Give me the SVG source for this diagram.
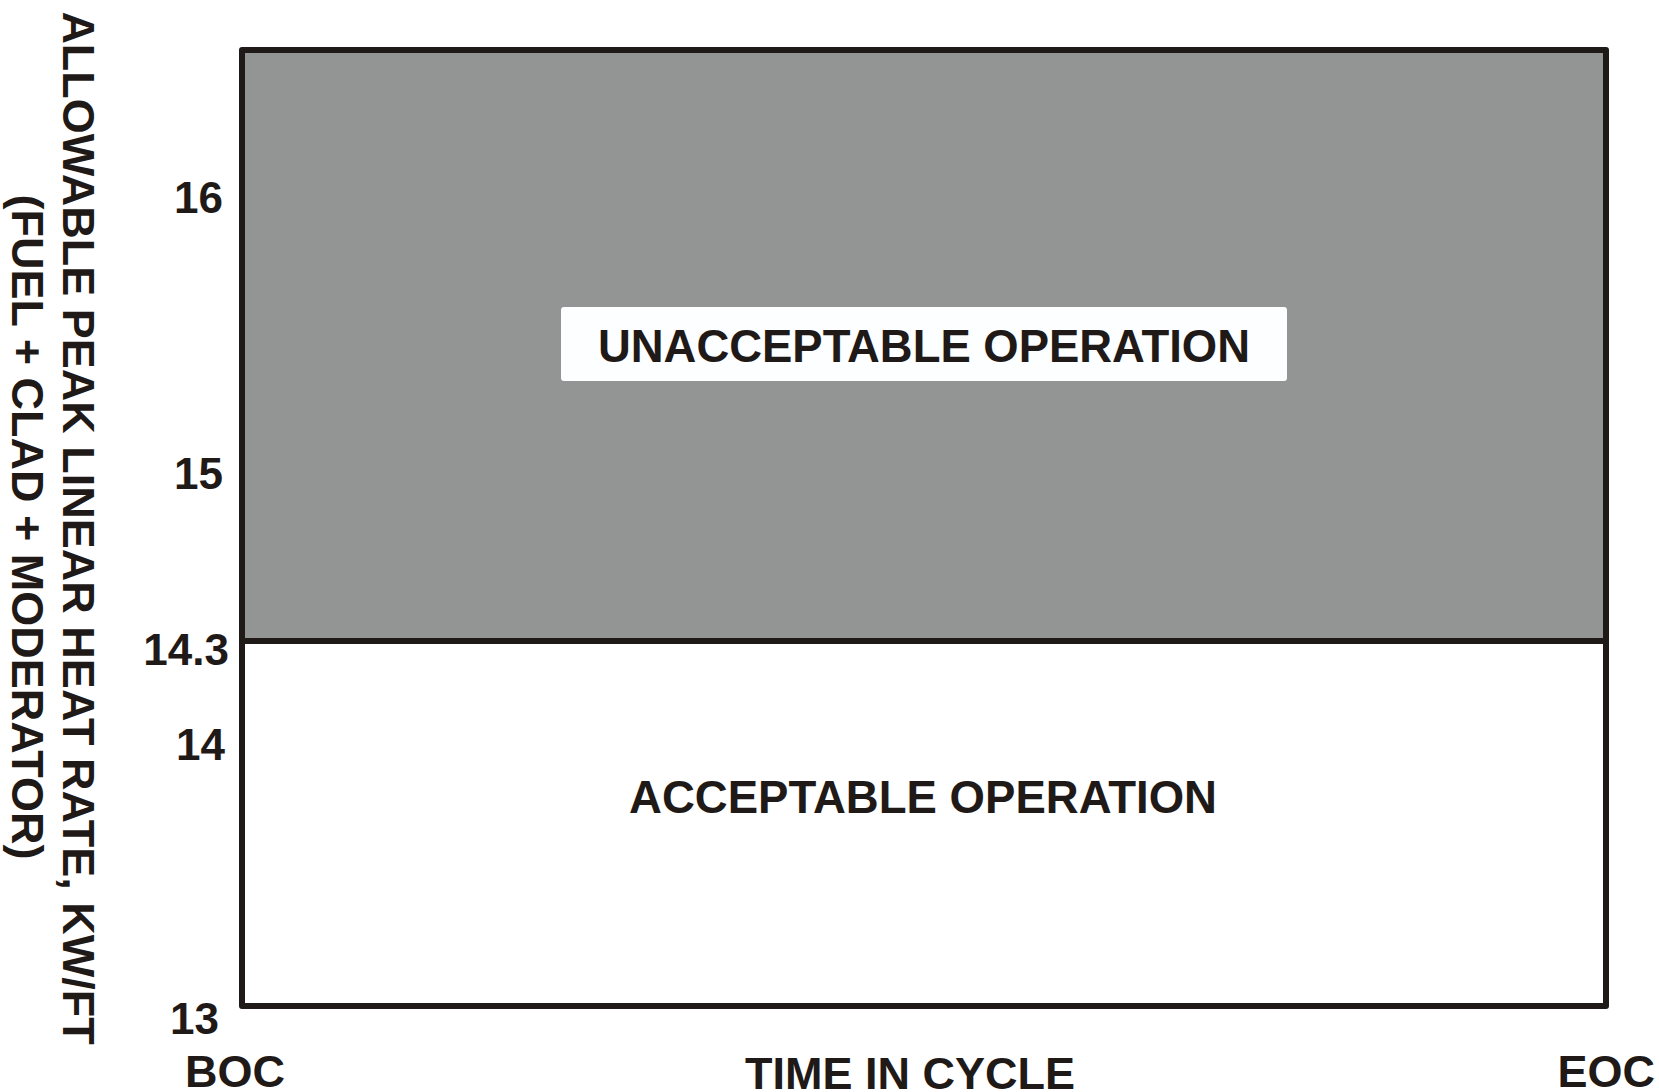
<svg xmlns="http://www.w3.org/2000/svg" width="1659" height="1092" viewBox="0 0 1659 1092">
<style>
text{font-family:"Liberation Sans",Arial,sans-serif;font-weight:bold;fill:#1f1a17}
.tick{font-size:44px;text-anchor:end}
.lbl{font-size:45px}
.big{font-size:47px}
.axis{font-size:45px;text-anchor:middle}
.frame{stroke:#1f1a17;stroke-width:6;fill:none;stroke-linecap:round;stroke-linejoin:round}
</style>
<rect width="1659" height="1092" fill="#ffffff"/>
<g id="unacceptable-region">
<rect x="242" y="50" width="1364" height="591" fill="#939594"/>
<rect x="561" y="307" width="726" height="74" rx="3" fill="#fdfeff"/>
<text class="big" x="598" y="362" textLength="652" lengthAdjust="spacingAndGlyphs">UNACCEPTABLE OPERATION</text>
</g>
<g id="acceptable-region">
<text class="big" x="629" y="813" textLength="588" lengthAdjust="spacingAndGlyphs">ACCEPTABLE OPERATION</text>
</g>
<g id="connectors">
<path class="frame" d="M242 50 H1606 V1006 H242 Z"/>
<path class="frame" d="M242 641 H1606" stroke-width="7"/>
</g>
<g id="y-ticks">
<text class="tick" x="223" y="213">16</text>
<text class="tick" x="223" y="489">15</text>
<text class="tick" x="229" y="665">14.3</text>
<text class="tick" x="225" y="760">14</text>
<text class="tick" x="219" y="1034">13</text>
</g>
<g id="x-labels">
<text class="lbl" x="185" y="1087" font-size="43">BOC</text>
<text class="lbl" x="745" y="1089">TIME IN CYCLE</text>
<text class="lbl" x="1655" y="1087" text-anchor="end" font-size="43">EOC</text>
</g>
<g id="y-title">
<text class="axis" transform="translate(63,528) rotate(90)">ALLOWABLE PEAK LINEAR HEAT RATE, KW/FT</text>
<text class="axis" transform="translate(12,527) rotate(90)">(FUEL + CLAD + MODERATOR)</text>
</g>
</svg>
